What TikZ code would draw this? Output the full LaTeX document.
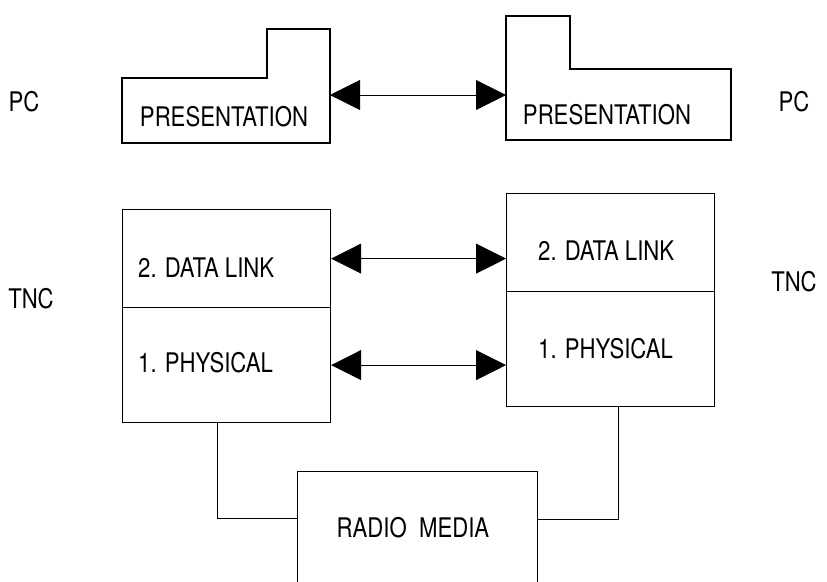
\documentclass[tikz,border=0pt]{standalone}
\usepackage{fontspec}
\setmainfont[FakeStretch=0.82]{TeX Gyre Heros}
\usetikzlibrary{arrows.meta}

\tikzset{
	layer/.style={draw, line width=1.2pt, minimum width=208pt, inner sep=0pt, anchor=north west},
	txt/.style={font=\fontsize{27}{30}\selectfont, inner sep=0pt},
	peer/.style={{Triangle[length=30pt,width=30pt]}-{Triangle[length=30pt,width=30pt]}, line width=0.8pt},
	wire/.style={line width=1.2pt},
}

\begin{document}
\begin{tikzpicture}[x=1pt,y=-1pt]
		\useasboundingbox (0,0) rectangle (827,581);
		\clip (0,0) rectangle (827,581);
		% PC layer
		\draw[line width=1.2pt] (122,78) -- (267,78) -- (267,29) -- (330,29) -- (330,143) -- (122,143) -- cycle;
		\draw[line width=1.2pt] (506,16) -- (570,16) -- (570,69) -- (731,69) -- (731,140) -- (506,140) -- cycle;
		\node[txt] (presA) at (224,117) {PRESENTATION};
		\node[txt] (presB) at (607,115) {PRESENTATION};
		\coordinate (pcA) at (330,95);
		\coordinate (pcB) at (506,95);
		\draw[peer] (pcA) -- (pcB);
		\node[txt] (pcL) at (24,102) {PC};
		\node[txt] (pcR) at (794,102) {PC};
		% TNC layers
		\node[layer, minimum height=98pt] (dlA) at (122,209) {};
		\node[layer, minimum height=115pt] (phA) at (122,307) {};
		\node[layer, minimum height=98pt] (dlB) at (506,193) {};
		\node[layer, minimum height=115pt] (phB) at (506,291) {};
		\node[txt, anchor=west] (dlAt) at (138,268) {2. DATA LINK};
		\node[txt, anchor=west] (phAt) at (138,363) {1. PHYSICAL};
		\node[txt, anchor=west] (dlBt) at (538,251) {2. DATA LINK};
		\node[txt, anchor=west] (phBt) at (538,349) {1. PHYSICAL};
		\draw[peer] (dlA.east) -- (dlA.east -| dlB.west);
		\draw[peer] (phA.east) -- (phA.east -| phB.west);
		\node[txt] (tncL) at (31,299) {TNC};
		\node[txt] (tncR) at (794,282) {TNC};
		% radio
		\node[layer, minimum width=240pt, minimum height=140pt] (radio) at (297,471) {};
		\node[txt] (radiot) at (413,528) {RADIO\ \ MEDIA};
		\draw[wire] ([xshift=-9pt]phA.south) |- ([yshift=23pt]radio.west);
		\draw[wire] ([xshift=8pt]phB.south) |- ([yshift=22pt]radio.east);
\end{tikzpicture}
\end{document}
